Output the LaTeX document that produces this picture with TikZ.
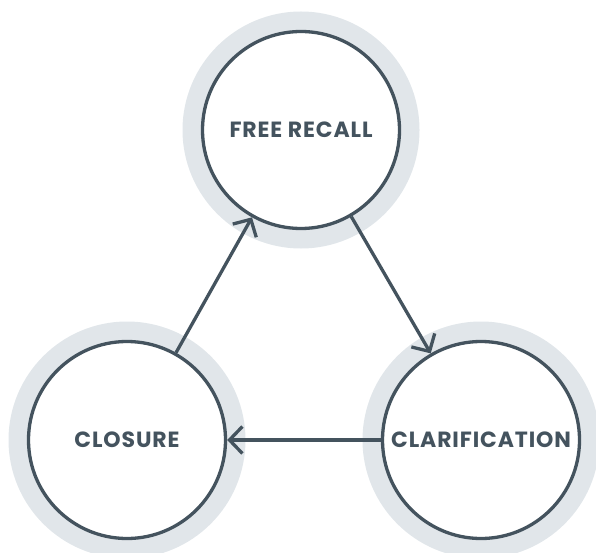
\documentclass[tikz,border=0pt]{standalone}
\usepackage{fontspec}
\setmainfont{Poppins}
\newfontfamily\lblfont{Poppins}[LetterSpace=4]
\usetikzlibrary{arrows.meta}
\definecolor{ink}{HTML}{44535E}
\definecolor{halo}{HTML}{E1E6EA}
\tikzset{
  stage/.style={circle, draw=ink, line width=3.3pt, fill=white, minimum size=197pt, inner sep=0pt,
    font=\lblfont\fontsize{22}{24}\selectfont\bfseries, text=ink},
  halodisc/.style={fill=halo},
  flow/.style={draw=ink, line width=3.3pt, -{Straight Barb[length=13pt,width=27pt,line width=3.3pt]}}
}
\begin{document}
\begin{tikzpicture}[x=1pt,y=-1pt]
\useasboundingbox (0,0) rectangle (596,553);
\clip (0,0) rectangle (596,553);
\fill[halodisc] (301,130) circle (118.5pt);
\fill[halodisc] (127,440) circle (118.5pt);
\fill[halodisc] (481,440) circle (118.5pt);
\node[stage] (recall) at (301,130) {\raisebox{-2pt}{FREE RECALL}};
\node[stage] (closure) at (127,440) {\raisebox{-2pt}{CLOSURE}};
\node[stage] (clar) at (481,440) {\raisebox{-2pt}{CLARIFICATION}};
\draw[flow] (recall) -- (clar);
\draw[flow] (clar) -- (closure);
\draw[flow] (closure) -- (recall);
\end{tikzpicture}
\end{document}
